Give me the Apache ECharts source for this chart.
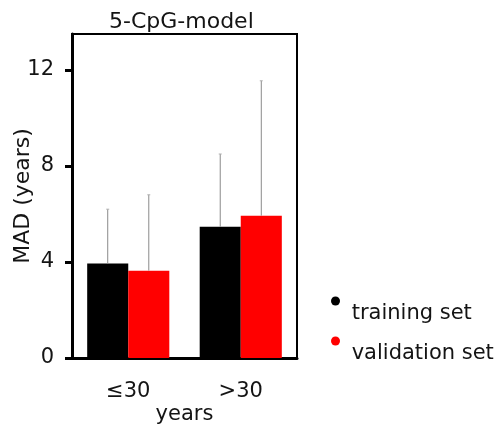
<!DOCTYPE html>
<html>
<head>
<meta charset="utf-8">
<script src="https://cdn.jsdelivr.net/npm/echarts@6/dist/echarts.min.js"></script>
<style>
  html, body { margin: 0; padding: 0; background: #fff; }
  #chart { width: 503px; height: 426px; }
</style>
</head>
<body>
<div id="chart"></div>
<script>
// data
const categories = ['≤30', '>30'];
const trainingMAD = [3.94, 5.47];
const validationMAD = [3.64, 5.93];
const trainingUpper = [6.2, 8.5];
const validationUpper = [6.8, 11.55];
const yTicks = [0, 4, 8, 12];

const FONT = 'DejaVu Sans';
const TEXT = '#141414';
const CAT_GAP = 0.27;

// vertical error line above each bar (upper part only, as in the figure)
function errorBar(sign) {
  return function (params, api) {
    const idx = api.value(0);
    const top = api.coord([idx, api.value(2)]);
    const base = api.coord([idx, api.value(1)]);
    const bw = api.size([1, 0])[0] * (1 - CAT_GAP) / 2;
    const x = top[0] + sign * bw / 2;
    return {
      type: 'group',
      children: [
        { type: 'line', shape: { x1: x, y1: base[1], x2: x, y2: top[1] },
          style: { stroke: '#8a8a8a', lineWidth: 1 } },
        { type: 'line', shape: { x1: x - 1.5, y1: top[1], x2: x + 1.5, y2: top[1] },
          style: { stroke: '#b0b0b0', lineWidth: 1 } }
      ]
    };
  };
}

const chart = echarts.init(document.getElementById('chart'));
chart.setOption({
  animation: false,
  textStyle: { fontFamily: FONT },
  title: {
    text: '5-CpG-model',
    left: 104,
    top: 6,
    textStyle: { fontFamily: FONT, fontSize: 22, fontWeight: 'normal', color: TEXT }
  },
  legend: {
    data: ['training set', 'validation set'],
    orient: 'vertical',
    left: 326,
    top: 271,
    icon: 'circle',
    itemWidth: 9,
    itemHeight: 9,
    itemGap: -10,
    // blank first line pushes the label below its dot, as in the figure
    formatter: name => '\n ' + name,
    textStyle: { fontFamily: FONT, fontSize: 21, lineHeight: 25, color: TEXT }
  },
  grid: {
    left: 72, right: 206, top: 34, bottom: 68,
    outerBoundsMode: 'none',
    show: true, borderColor: '#000', borderWidth: 2
  },
  xAxis: {
    type: 'category',
    data: categories,
    name: 'years',
    nameLocation: 'middle',
    nameGap: 46,
    nameMoveOverlap: false,
    nameTextStyle: { fontFamily: FONT, fontSize: 21, color: TEXT },
    axisLine: { lineStyle: { color: '#000', width: 3 } },
    axisTick: { length: 5, lineStyle: { color: '#000', width: 2 } },
    axisLabel: { fontFamily: FONT, fontSize: 21, color: TEXT, margin: 23 }
  },
  yAxis: {
    type: 'value',
    min: 0,
    max: 13.5,
    interval: 4,
    name: 'MAD (years)',
    nameLocation: 'middle',
    nameGap: 38,
    nameMoveOverlap: false,
    nameTextStyle: { fontFamily: FONT, fontSize: 22, color: TEXT },
    splitLine: { show: false },
    axisLine: { show: true, lineStyle: { color: '#000', width: 3 } },
    axisTick: { show: true, length: 7, customValues: yTicks, lineStyle: { color: '#000', width: 3 } },
    axisLabel: { fontFamily: FONT, fontSize: 21, color: TEXT, margin: 18, customValues: yTicks }
  },
  series: [
    {
      name: 'training set',
      type: 'bar',
      data: trainingMAD,
      barGap: 0,
      barCategoryGap: (CAT_GAP * 100) + '%',
      itemStyle: { color: '#000000' }
    },
    {
      name: 'validation set',
      type: 'bar',
      data: validationMAD,
      barGap: 0,
      barCategoryGap: (CAT_GAP * 100) + '%',
      itemStyle: { color: '#ff0000' }
    },
    {
      name: 'training err',
      type: 'custom',
      renderItem: errorBar(-1),
      data: categories.map((c, i) => [i, trainingMAD[i], trainingUpper[i]]),
      z: 3
    },
    {
      name: 'validation err',
      type: 'custom',
      renderItem: errorBar(1),
      data: categories.map((c, i) => [i, validationMAD[i], validationUpper[i]]),
      z: 3
    }
  ]
});
</script>
</body>
</html>
